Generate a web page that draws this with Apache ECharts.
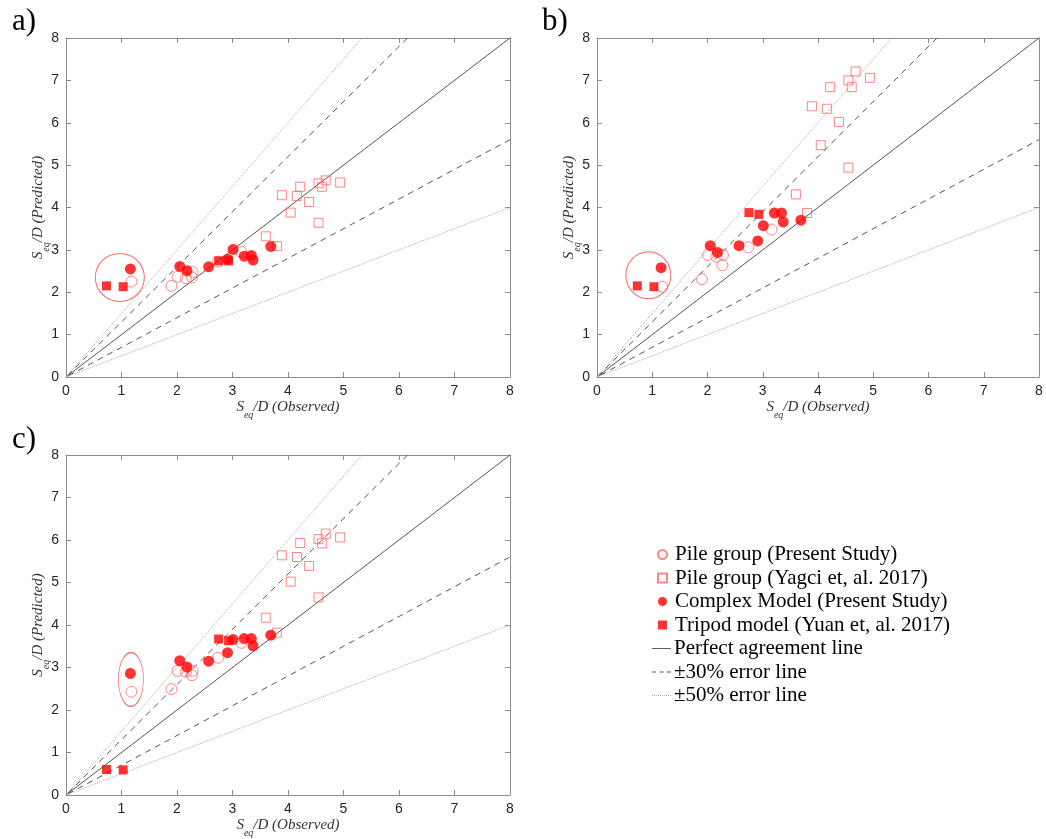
<!DOCTYPE html>
<html>
<head>
<meta charset="utf-8">
<script src="https://cdn.jsdelivr.net/npm/echarts@6/dist/echarts.min.js"></script>
<style>
html, body { margin: 0; padding: 0; background: #fff; }
#main { width: 1046px; height: 839px; }
</style>
</head>
<body>
<div id="main"></div>
<script>
// observed values (shared by the three panels)
var obsPile = [1.18, 1.90, 2.01, 2.16, 2.28, 2.27, 2.74, 3.16];
var obsYagci = [3.60, 3.80, 3.89, 4.05, 4.16, 4.22, 4.38, 4.55, 4.55, 4.61, 4.68, 4.94];
var obsComplex = [1.16, 2.05, 2.18, 2.57, 2.91, 3.01, 3.21, 3.34, 3.37, 3.69];
var obsTripod = [0.73, 1.03, 2.75, 2.93];

// predicted values, panel a
var predPileA = [2.25, 2.15, 2.37, 2.33, 2.48, 2.35, 2.72, 2.95];
var predYagciA = [3.32, 3.09, 4.29, 3.88, 4.27, 4.49, 4.13, 4.57, 3.64, 4.49, 4.64, 4.59];
var predComplexA = [2.55, 2.61, 2.51, 2.60, 2.78, 3.01, 2.85, 2.87, 2.76, 3.08];
var predTripodA = [2.15, 2.13, 2.74, 2.74];

// panel b
var predPileB = [2.13, 2.31, 2.88, 2.84, 2.88, 2.64, 3.06, 3.48];
var predYagciB = [4.31, 3.87, 6.39, 5.47, 6.33, 6.84, 6.02, 7.00, 4.94, 6.84, 7.21, 7.06];
var predComplexB = [2.58, 3.10, 2.94, 3.10, 3.21, 3.57, 3.87, 3.87, 3.66, 3.70];
var predTripodB = [2.15, 2.13, 3.88, 3.84];

// panel c
var predPileC = [2.43, 2.49, 2.92, 2.90, 2.92, 2.82, 3.23, 3.58];
var predYagciC = [4.17, 3.82, 5.64, 5.02, 5.60, 5.93, 5.39, 6.02, 4.65, 5.92, 6.15, 6.06];
var predComplexC = [2.86, 3.16, 3.01, 3.15, 3.35, 3.66, 3.68, 3.68, 3.51, 3.76];
var predTripodC = [0.60, 0.59, 3.67, 3.63];

// centres of the highlight rings
var ringCentres = [[0.97, 2.35], [0.93, 2.40], [1.17, 2.72]];

var panelLabels = ['a)', 'b)', 'c)'];
var axisMax = 8;
var perfectRatio = [1];
var err30Ratio = [1.3, 0.7];
var err50Ratio = [1.5, 0.5];

var names = [
    'Pile group (Present Study)',
    'Pile group (Yagci et, al. 2017)',
    'Complex Model (Present Study)',
    'Tripod model (Yuan et, al. 2017)',
    'Perfect agreement line',
    '\u00b130% error line',
    '\u00b150% error line'
];

var panels = [
    { pile: predPileA, yagci: predYagciA, complex: predComplexA, tripod: predTripodA },
    { pile: predPileB, yagci: predYagciB, complex: predComplexB, tripod: predTripodB },
    { pile: predPileC, yagci: predYagciC, complex: predComplexC, tripod: predTripodC }
];

var grids = [
    { left: 66, top: 38, width: 444, height: 339 },
    { left: 597, top: 38, width: 442, height: 339 },
    { left: 66, top: 455, width: 444, height: 340 }
];
var ringSizes = [[49, 48], [45, 47], [25, 54]];

function pairs(xs, ys) {
    return xs.map(function (x, i) { return [x, ys[i]]; });
}
// line through origin with slope r, clipped to the plot box
function rayEnd(r) {
    return r >= 1 ? [axisMax / r, axisMax] : [axisMax, axisMax * r];
}
function vLine(ratios) {
    if (ratios.length === 1) return [[0, 0], rayEnd(ratios[0])];
    return [rayEnd(ratios[0]), [0, 0], rayEnd(ratios[1])];
}
// legend icon: a row of 1px-high bars (dash length, gap)
function barIcon(dash, gap) {
    var s = 'path://';
    for (var x = 0; x + dash <= 20; x += dash + gap) {
        s += 'M' + x + ',0H' + (x + dash) + 'V1H' + x + 'Z';
    }
    return s;
}

var axisColor = '#8c8c8c';
var serif = 'Liberation Serif';
var nameRich = {
    i: { fontFamily: serif, fontStyle: 'italic', fontSize: 15, color: '#333' },
    sub: { fontFamily: serif, fontStyle: 'italic', fontSize: 10, color: '#333', padding: [16, 0, 0, 0] }
};

var xAxes = [], yAxes = [], series = [], titles = [];
var openRed = '#ff6666';

grids.forEach(function (g, p) {
    var base = {
        gridIndex: p, type: 'value', min: 0, max: axisMax, interval: 1,
        axisLine: { show: true, onZero: false, lineStyle: { color: axisColor, width: 1 } },
        axisTick: { show: true, inside: true, length: 5, lineStyle: { color: axisColor } },
        splitLine: { show: false },
        axisLabel: { fontFamily: 'Liberation Sans', fontSize: 14, color: '#262626', margin: 7 }
    };
    xAxes.push(Object.assign({}, base, {
        position: 'bottom',
        name: '{i|S}{sub|eq}{i|/D (Observed)}',
        nameLocation: 'middle', nameGap: 17, nameMoveOverlap: false,
        nameTextStyle: { rich: nameRich }
    }));
    xAxes.push(Object.assign({}, base, { position: 'top', axisLabel: { show: false } }));
    yAxes.push(Object.assign({}, base, {
        position: 'left',
        name: '{i|S}{sub|eq}{i|/D (Predicted)}',
        nameLocation: 'middle', nameGap: 15, nameMoveOverlap: false,
        nameTextStyle: { rich: nameRich }
    }));
    yAxes.push(Object.assign({}, base, { position: 'right', axisLabel: { show: false } }));

    var ax = { xAxisIndex: p * 2, yAxisIndex: p * 2 };
    var d = panels[p];

    series.push(Object.assign({
        name: names[4], type: 'line', data: vLine(perfectRatio), symbol: 'none',
        itemStyle: { color: '#555' },
        lineStyle: { color: '#555', width: 1 }, silent: true, z: 1
    }, ax));
    series.push(Object.assign({
        name: names[5], type: 'line', data: vLine(err30Ratio), symbol: 'none',
        itemStyle: { color: '#555' },
        lineStyle: { color: '#555', width: 1, type: [6, 5] }, silent: true, z: 1
    }, ax));
    series.push(Object.assign({
        name: names[6], type: 'line', data: vLine(err50Ratio), symbol: 'none',
        itemStyle: { color: '#aaa' },
        lineStyle: { color: '#aaa', width: 1, type: [1, 1] }, silent: true, z: 1
    }, ax));

    series.push(Object.assign({
        name: names[0], type: 'scatter', data: pairs(obsPile, d.pile),
        symbol: 'circle', symbolSize: 11,
        itemStyle: { color: 'rgba(255,255,255,0)', borderColor: openRed, borderWidth: 1 }, z: 3
    }, ax));
    series.push(Object.assign({
        name: names[1], type: 'scatter', data: pairs(obsYagci, d.yagci),
        symbol: 'rect', symbolSize: 9,
        itemStyle: { color: 'rgba(255,255,255,0)', borderColor: openRed, borderWidth: 1 }, z: 3
    }, ax));
    series.push(Object.assign({
        name: names[2], type: 'scatter', data: pairs(obsComplex, d.complex),
        symbol: 'circle', symbolSize: 11,
        itemStyle: { color: '#ff0000' }, z: 4
    }, ax));
    series.push(Object.assign({
        name: names[3], type: 'scatter', data: pairs(obsTripod, d.tripod),
        symbol: 'rect', symbolSize: 9,
        itemStyle: { color: '#ff0000' }, z: 4
    }, ax));
    // highlight ring
    series.push(Object.assign({
        name: 'ring', type: 'scatter', data: [ringCentres[p]],
        symbol: 'circle', symbolSize: ringSizes[p], silent: true,
        itemStyle: { color: 'rgba(255,255,255,0)', borderColor: '#ff4040', borderWidth: 1 }, z: 2
    }, ax));

    titles.push({
        text: panelLabels[p], padding: 0,
        left: p === 1 ? 542 : 12, top: p === 2 ? 424 : 6,
        textStyle: { fontFamily: serif, fontSize: 31, fontWeight: 'normal', color: '#000' }
    });
});

var legendText = { fontFamily: serif, fontSize: 21, color: '#000', lineHeight: 21 };
var myChart = echarts.init(document.getElementById('main'), null, { renderer: 'canvas' });
var option = {
    animation: false,
    backgroundColor: '#fff',
    title: titles,
    grid: grids.map(function (g) { return Object.assign({ containLabel: false }, g); }),
    xAxis: xAxes,
    yAxis: yAxes,
    legend: [{
        data: [
            { name: names[0], icon: 'circle' },
            { name: names[1], icon: 'rect' },
            { name: names[2], icon: 'circle' },
            { name: names[3], icon: 'rect' }
        ],
        orient: 'vertical',
        left: 657, top: 544,
        padding: 0,
        itemWidth: 9, itemHeight: 9, itemGap: 2.5,
        selectedMode: false,
        textStyle: Object.assign({ padding: [0, 0, 0, 3] }, legendText)
    }, {
        data: [
            { name: names[4], icon: barIcon(20, 0) },
            { name: names[5], icon: barIcon(4, 3) },
            { name: names[6], icon: barIcon(1, 1) }
        ],
        orient: 'vertical',
        left: 652, top: 638,
        padding: 0,
        itemWidth: 19, itemHeight: 9, itemGap: 2.5,
        selectedMode: false,
        textStyle: Object.assign({ padding: [0, 0, 0, -2] }, legendText)
    }],
    series: series
};
myChart.setOption(option);
</script>
</body>
</html>
